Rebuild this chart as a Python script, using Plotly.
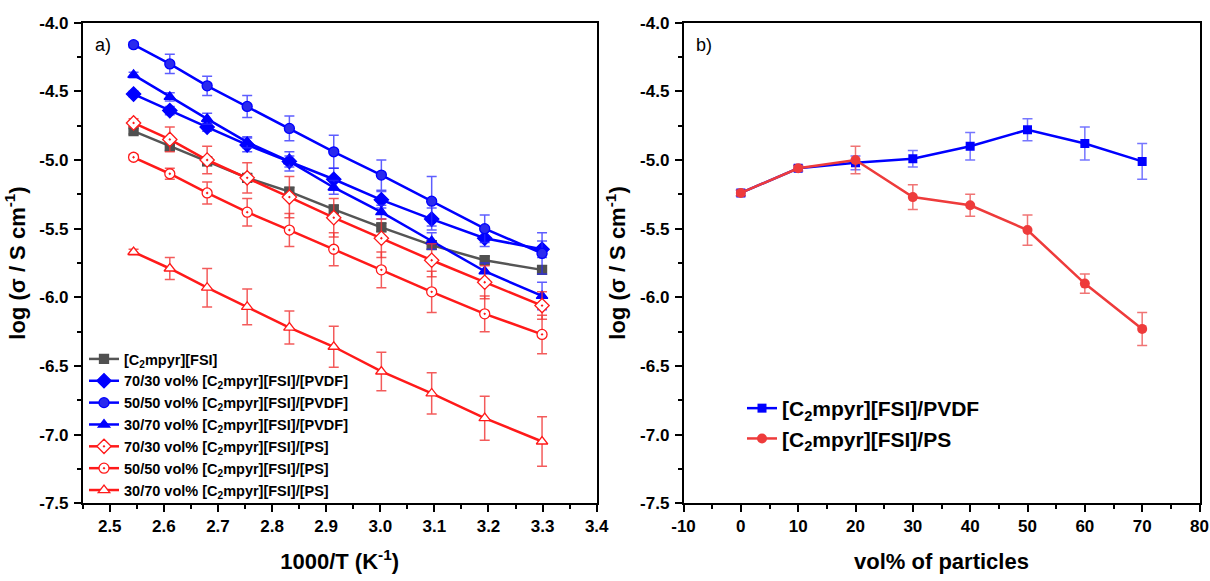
import plotly.graph_objects as go

# ---------------- data: panel a ----------------
inv_T = [2.544, 2.611, 2.680, 2.754, 2.832, 2.914, 3.002, 3.095, 3.193, 3.299]

il_neat = [-4.79, -4.90, -5.01, -5.13, -5.23, -5.36, -5.49, -5.62, -5.73, -5.80]
il_neat_err = [0.02, 0.03, 0.03, 0.03, 0.03, 0.03, 0.03, 0.03, 0.03, 0.03]

pvdf_70_30 = [-4.52, -4.64, -4.76, -4.89, -5.01, -5.14, -5.29, -5.43, -5.57, -5.65]
pvdf_70_30_err = [0.02, 0.03, 0.03, 0.05, 0.07, 0.08, 0.06, 0.08, 0.06, 0.06]

pvdf_50_50 = [-4.16, -4.30, -4.46, -4.61, -4.77, -4.94, -5.11, -5.30, -5.50, -5.68]
pvdf_50_50_err = [0.02, 0.07, 0.07, 0.08, 0.09, 0.12, 0.11, 0.18, 0.10, 0.15]

pvdf_30_70 = [-4.38, -4.54, -4.70, -4.87, -5.01, -5.20, -5.38, -5.59, -5.81, -5.99]
pvdf_30_70_err = [0.02, 0.03, 0.04, 0.04, 0.04, 0.05, 0.05, 0.06, 0.06, 0.10]

ps_70_30 = [-4.73, -4.85, -5.00, -5.13, -5.27, -5.42, -5.57, -5.73, -5.89, -6.06]
ps_70_30_err = [0.03, 0.09, 0.10, 0.11, 0.15, 0.14, 0.14, 0.12, 0.12, 0.10]

ps_50_50 = [-4.98, -5.10, -5.24, -5.38, -5.51, -5.65, -5.80, -5.96, -6.12, -6.27]
ps_50_50_err = [0.02, 0.04, 0.08, 0.10, 0.12, 0.12, 0.13, 0.15, 0.13, 0.14]

ps_30_70 = [-5.67, -5.79, -5.93, -6.07, -6.22, -6.36, -6.54, -6.70, -6.88, -7.05]
ps_30_70_err = [0.02, 0.08, 0.14, 0.13, 0.12, 0.15, 0.14, 0.15, 0.16, 0.18]

names_a = [
    "[C<sub>2</sub>mpyr][FSI]",
    "70/30 vol% [C<sub>2</sub>mpyr][FSI]/[PVDF]",
    "50/50 vol% [C<sub>2</sub>mpyr][FSI]/[PVDF]",
    "30/70 vol% [C<sub>2</sub>mpyr][FSI]/[PVDF]",
    "70/30 vol% [C<sub>2</sub>mpyr][FSI]/[PS]",
    "50/50 vol% [C<sub>2</sub>mpyr][FSI]/[PS]",
    "30/70 vol% [C<sub>2</sub>mpyr][FSI]/[PS]",
]

# ---------------- data: panel b ----------------
vol_pct = [0, 10, 20, 30, 40, 50, 60, 70]
b_pvdf = [-5.24, -5.06, -5.02, -4.99, -4.90, -4.78, -4.88, -5.01]
b_pvdf_err = [0.02, 0.02, 0.05, 0.06, 0.10, 0.08, 0.12, 0.13]
b_ps = [-5.24, -5.06, -5.00, -5.27, -5.33, -5.51, -5.90, -6.23]
b_ps_err = [0.02, 0.02, 0.10, 0.09, 0.08, 0.11, 0.07, 0.12]
names_b = ["[C<sub>2</sub>mpyr][FSI]/PVDF", "[C<sub>2</sub>mpyr][FSI]/PS"]

y_ticks = [-4.0, -4.5, -5.0, -5.5, -6.0, -6.5, -7.0, -7.5]
y_ticktext = ["-4.0", "-4.5", "-5.0", "-5.5", "-6.0", "-6.5", "-7.0", "-7.5"]
xa_ticks = [2.5, 2.6, 2.7, 2.8, 2.9, 3.0, 3.1, 3.2, 3.3, 3.4]
xa_ticktext = ["2.5", "2.6", "2.7", "2.8", "2.9", "3.0", "3.1", "3.2", "3.3", "3.4"]
xb_ticks = [-10, 0, 10, 20, 30, 40, 50, 60, 70, 80]
xb_ticktext = ["-10", "0", "10", "20", "30", "40", "50", "60", "70", "80"]

FONT = "Liberation Sans"
BLUE = "#0000ff"
BLUE_ERR = "rgba(40,40,255,0.75)"
RED = "#ff1a1a"
RED_ERR = "rgba(240,50,50,0.8)"
GRAY = "#555555"

fig = go.Figure()

def add_a(y, err, name, line_color, err_color, symbol, mcolor, mline, msize):
    fig.add_trace(go.Scatter(
        x=inv_T, y=y, name=name, mode="lines+markers",
        line=dict(color=line_color, width=2.5),
        marker=dict(symbol=symbol, size=msize, color=mcolor,
                    line=dict(color=mline, width=1.3)),
        error_y=dict(type="data", array=err, color=err_color, thickness=1.5, width=5),
        xaxis="x", yaxis="y", legend="legend",
    ))

add_a(il_neat, il_neat_err, names_a[0], GRAY, GRAY, "square", "#505050", "#505050", 9)
add_a(pvdf_70_30, pvdf_70_30_err, names_a[1], BLUE, BLUE_ERR, "diamond", BLUE, BLUE, 11)
add_a(pvdf_50_50, pvdf_50_50_err, names_a[2], BLUE, BLUE_ERR, "circle", "#2a2aee", BLUE, 10)
add_a(pvdf_30_70, pvdf_30_70_err, names_a[3], BLUE, BLUE_ERR, "triangle-up", BLUE, BLUE, 10)
add_a(ps_70_30, ps_70_30_err, names_a[4], RED, RED_ERR, "diamond-dot", "white", RED, 11)
add_a(ps_50_50, ps_50_50_err, names_a[5], RED, RED_ERR, "circle-dot", "white", RED, 10)
add_a(ps_30_70, ps_30_70_err, names_a[6], RED, RED_ERR, "triangle-up", "white", RED, 10)

B_RED = "#ee3b3b"
fig.add_trace(go.Scatter(
    x=vol_pct, y=b_pvdf, name=names_b[0], mode="lines+markers",
    line=dict(color=BLUE, width=2.5),
    marker=dict(symbol="square", size=9, color=BLUE),
    error_y=dict(type="data", array=b_pvdf_err, color="rgba(60,60,255,0.7)", thickness=1.5, width=5),
    xaxis="x2", yaxis="y2", legend="legend2",
))
fig.add_trace(go.Scatter(
    x=vol_pct, y=b_ps, name=names_b[1], mode="lines+markers",
    line=dict(color=B_RED, width=2.5),
    marker=dict(symbol="circle", size=10, color=B_RED),
    error_y=dict(type="data", array=b_ps_err, color="rgba(235,70,70,0.75)", thickness=1.5, width=5),
    xaxis="x2", yaxis="y2", legend="legend2",
))

W, H = 1210, 581
dom_ya = [1 - 503.3 / H, 1 - 22.7 / H]

tickfont = dict(family=FONT, size=17, color="black", weight="bold")
titlefont = dict(family=FONT, size=22, color="black", weight="bold")

common_y = dict(
    range=[-7.5, -4.0], tickmode="array", tickvals=y_ticks, ticktext=y_ticktext,
    ticks="outside", ticklen=7, tickwidth=1.5, tickcolor="black",
    minor=dict(ticks="outside", ticklen=4, tickwidth=1.5, tickcolor="black", dtick=0.25, tick0=-4.0),
    showline=True, linecolor="black", linewidth=1.5, mirror=True,
    showgrid=False, zeroline=False, tickfont=tickfont, automargin=False,
    domain=dom_ya, ticklabelstandoff=2,
)

fig.update_layout(
    width=W, height=H,
    margin=dict(l=0, r=0, t=0, b=0),
    paper_bgcolor="white", plot_bgcolor="white",
    showlegend=True,
    xaxis=dict(
        domain=[82.7 / W, 596.7 / W], range=[2.45, 3.4],
        tickmode="array", tickvals=xa_ticks, ticktext=xa_ticktext,
        ticks="outside", ticklen=7, tickwidth=1.5, tickcolor="black",
        minor=dict(ticks="outside", ticklen=4, tickwidth=1.5, tickcolor="black", dtick=0.05, tick0=2.45),
        showline=True, linecolor="black", linewidth=1.5, mirror=True,
        showgrid=False, zeroline=False, tickfont=tickfont, automargin=False,
        title=dict(text="1000/T (K<sup>-1</sup>)", font=titlefont, standoff=18),
        anchor="y",
    ),
    yaxis=dict(**common_y, anchor="x",
               title=dict(text="log (σ / S cm<sup>-1</sup>)", font=titlefont, standoff=8)),
    xaxis2=dict(
        domain=[683.5 / W, 1199.5 / W], range=[-10, 80],
        tickmode="array", tickvals=xb_ticks, ticktext=xb_ticktext,
        ticks="outside", ticklen=7, tickwidth=1.5, tickcolor="black",
        minor=dict(ticks="outside", ticklen=4, tickwidth=1.5, tickcolor="black", dtick=5, tick0=-10),
        showline=True, linecolor="black", linewidth=1.5, mirror=True,
        showgrid=False, zeroline=False, tickfont=tickfont, automargin=False,
        title=dict(text="vol% of particles", font=titlefont, standoff=18),
        anchor="y2",
    ),
    yaxis2=dict(**common_y, anchor="x2",
                title=dict(text="log (σ / S cm<sup>-1</sup>)", font=titlefont, standoff=8)),
    legend=dict(
        x=84 / W, y=1 - 343 / H, xanchor="left", yanchor="top",
        bgcolor="rgba(0,0,0,0)", borderwidth=0,
        font=dict(family=FONT, size=14.5, color="black", weight="bold"),
        tracegroupgap=0, itemwidth=30,
    ),
    legend2=dict(
        x=742 / W, y=1 - 388 / H, xanchor="left", yanchor="top",
        bgcolor="rgba(0,0,0,0)", borderwidth=0,
        font=dict(family=FONT, size=21, color="black", weight="bold"),
        tracegroupgap=0,
    ),
    annotations=[
        dict(text="a)", x=93 / W, y=1 - 45 / H, xref="paper", yref="paper",
             xanchor="left", yanchor="middle", showarrow=False,
             font=dict(family=FONT, size=18, color="black")),
        dict(text="b)", x=694 / W, y=1 - 45 / H, xref="paper", yref="paper",
             xanchor="left", yanchor="middle", showarrow=False,
             font=dict(family=FONT, size=18, color="black")),
    ],
)

fig.write_html(
    "out.html",
    config={"displayModeBar": False},
    post_script="document.body.style.margin='0';document.body.style.overflow='hidden';",
)
